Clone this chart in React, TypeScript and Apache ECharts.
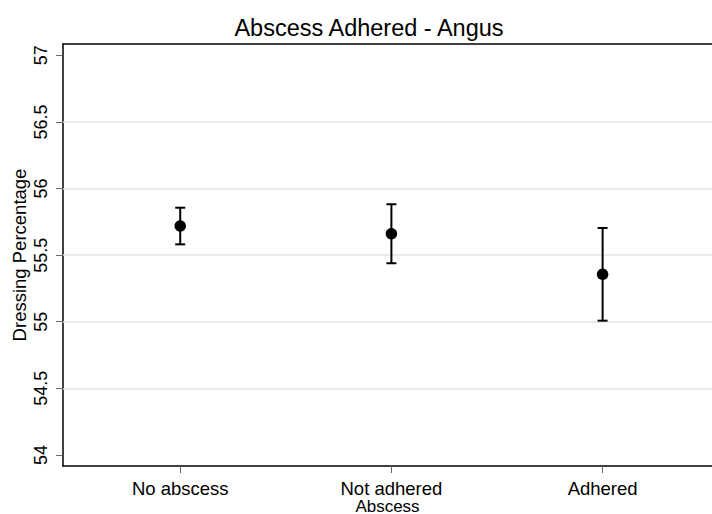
import React, { useEffect, useRef } from "react";
import * as echarts from "echarts";

const categories = ["No abscess", "Not adhered", "Adhered"];
const means = [55.719, 55.661, 55.356];
const lower = [55.581, 55.439, 55.008];
const upper = [55.856, 55.882, 55.704];
const yTicks = [54, 54.5, 55, 55.5, 56, 56.5, 57];
const gridValues = [54.5, 55, 55.5, 56, 56.5];

const FONT = "Liberation Sans";

export default function App() {
  const ref = useRef<HTMLDivElement>(null);
  useEffect(() => {
    if (!ref.current) return;
    const chart = echarts.init(ref.current, null, { renderer: "svg" });
    const xs = categories.map((_, i) => i + 1);
    chart.setOption({
      animation: false,
      backgroundColor: "#ffffff",
      title: {
        text: "Abscess Adhered - Angus",
        left: 364,
        top: 11,
        textAlign: "center",
        textStyle: { fontFamily: FONT, fontSize: 23.5, fontWeight: "normal", color: "#000" },
      },
      grid: { left: 63, right: 0, top: 44, bottom: 48, containLabel: false, outerBoundsMode: "none" },
      xAxis: [
        {
          type: "value",
          min: 0.445,
          max: 3.518,
          name: "Abscess",
          nameLocation: "middle",
          nameGap: 32,
          nameMoveOverlap: false,
          nameTextStyle: { fontFamily: FONT, fontSize: 17, lineHeight: 16, color: "#000" },
          axisLine: { show: true, onZero: false, lineStyle: { color: "#000", width: 1.5 } },
          axisTick: { show: true, length: 7, customValues: xs, lineStyle: { color: "#666", width: 1 } },
          axisLabel: {
            customValues: xs,
            margin: 14,
            fontFamily: FONT,
            fontSize: 18.5,
            lineHeight: 16,
            color: "#000",
            formatter: (v: number) => categories[Math.round(v) - 1] ?? "",
          },
          splitLine: { show: false },
        },
        {
          type: "value",
          position: "top",
          min: 0.445,
          max: 3.518,
          axisLine: { show: true, onZero: false, lineStyle: { color: "#000", width: 1.5 } },
          axisTick: { show: false },
          axisLabel: { show: false },
          splitLine: { show: false },
        },
      ],
      yAxis: {
        type: "value",
        min: 53.917,
        max: 57.085,
        name: "Dressing Percentage",
        nameLocation: "middle",
        nameGap: 34,
        nameMoveOverlap: false,
        nameTextStyle: { fontFamily: FONT, fontSize: 18.5, color: "#000" },
        axisLine: { show: true, onZero: false, lineStyle: { color: "#000", width: 1.5 } },
        axisTick: { show: true, length: 7, customValues: yTicks, lineStyle: { color: "#666", width: 1 } },
        axisLabel: {
          customValues: yTicks,
          rotate: 90,
          margin: 13,
          fontFamily: FONT,
          fontSize: 18,
          color: "#000",
          formatter: (v: number) => String(v),
        },
        splitLine: { show: false },
      },
      series: [
        {
          type: "custom",
          xAxisIndex: 0,
          data: xs.map((x, i) => [x, lower[i], upper[i]]),
          renderItem: (params: any, api: any) => {
            const x = api.value(0);
            const lo = api.coord([x, api.value(1)]);
            const hi = api.coord([x, api.value(2)]);
            const hw = 5;
            const style = { stroke: "#000", lineWidth: 2 };
            return {
              type: "group",
              children: [
                { type: "line", shape: { x1: lo[0], y1: lo[1], x2: hi[0], y2: hi[1] }, style },
                { type: "line", shape: { x1: lo[0] - hw, y1: lo[1], x2: lo[0] + hw, y2: lo[1] }, style },
                { type: "line", shape: { x1: hi[0] - hw, y1: hi[1], x2: hi[0] + hw, y2: hi[1] }, style },
              ],
            };
          },
          z: 3,
        },
        {
          type: "scatter",
          xAxisIndex: 0,
          data: xs.map((x, i) => [x, means[i]]),
          symbol: "circle",
          symbolSize: 11.5,
          itemStyle: { color: "#000", opacity: 1 },
          z: 4,
          markLine: {
            silent: true,
            symbol: "none",
            label: { show: false },
            lineStyle: { color: "#e3e3e3", width: 1.5, type: "solid" },
            data: gridValues.map((v) => ({ yAxis: v })),
            z: 1,
          },
        },
      ],
    });
    return () => chart.dispose();
  }, []);
  return <div ref={ref} style={{ width: 712, height: 514, position: "absolute", left: 0, top: 0 }} />;
}
